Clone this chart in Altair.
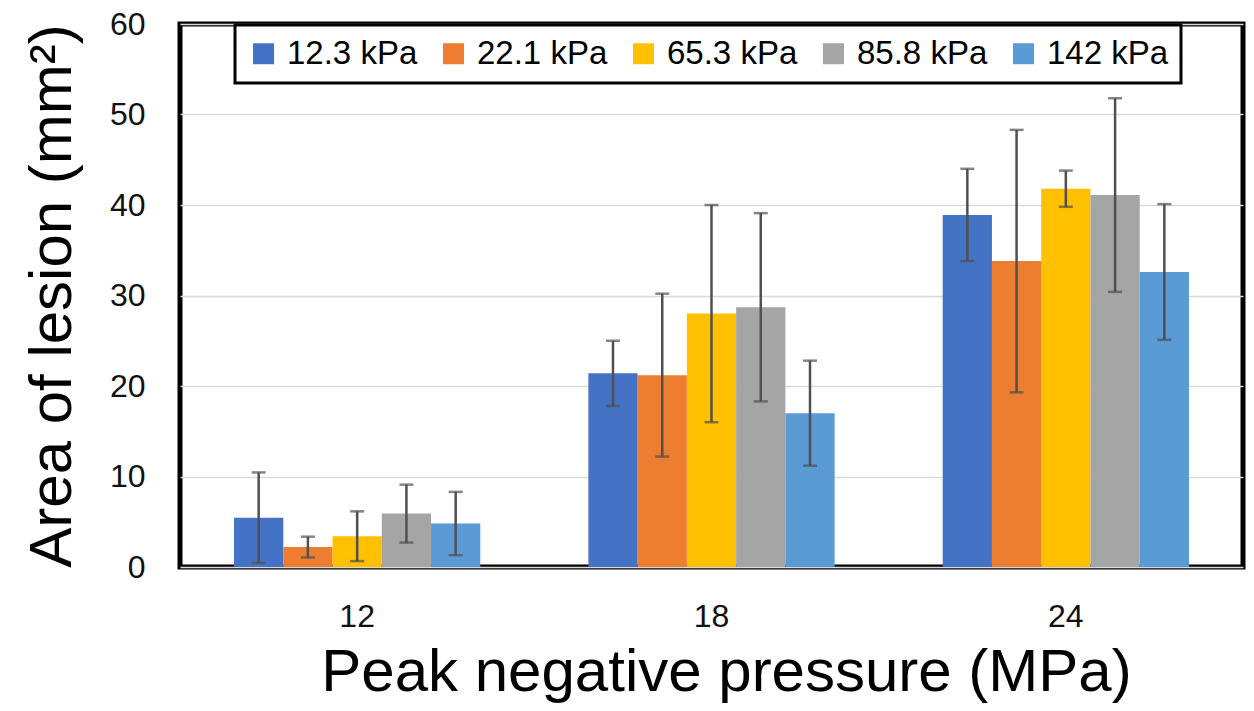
import altair as alt
import pandas as pd

# ---- data ----
pressures = ["12", "18", "24"]
series = ["12.3 kPa", "22.1 kPa", "65.3 kPa", "85.8 kPa", "142 kPa"]
colors = ["#4472C4", "#ED7D31", "#FFC000", "#A5A5A5", "#5B9BD5"]

mean_123 = [5.45, 21.4, 38.9]
mean_221 = [2.2, 21.2, 33.8]
mean_653 = [3.4, 28.0, 41.8]
mean_858 = [5.9, 28.7, 41.1]
mean_142 = [4.8, 17.0, 32.6]

sd_123 = [5.0, 3.6, 5.1]
sd_221 = [1.15, 9.0, 14.5]
sd_653 = [2.75, 12.0, 2.0]
sd_858 = [3.2, 10.4, 10.7]
sd_142 = [3.5, 5.8, 7.5]

y_ticks = [0, 10, 20, 30, 40, 50, 60]

means = [mean_123, mean_221, mean_653, mean_858, mean_142]
sds = [sd_123, sd_221, sd_653, sd_858, sd_142]

rows = []
for s, m_list, sd_list in zip(series, means, sds):
    for p, m, sd in zip(pressures, m_list, sd_list):
        rows.append({"pressure": p, "series": s, "mean": m,
                     "low": m - sd, "high": m + sd})
df = pd.DataFrame(rows)

FONT = "Liberation Sans, Arial, sans-serif"

x_enc = alt.X("pressure:N", sort=pressures,
              scale=alt.Scale(paddingInner=0.305, paddingOuter=0.1525),
              axis=alt.Axis(title="Peak negative pressure (MPa)", labelAngle=0,
                            labelFontSize=32, labelColor="#111111",
                            labelPadding=34, tickSize=0, domain=False,
                            titleFontSize=60, titleFontWeight="normal",
                            titleColor="#000000", titlePadding=11,
                            titleX=546))
xo_enc = alt.XOffset("series:N", sort=series, scale=alt.Scale(paddingInner=0))

base = alt.Chart(df).encode(x=x_enc, xOffset=xo_enc)

bars = base.mark_bar().encode(
    y=alt.Y("mean:Q",
            scale=alt.Scale(domain=[0, 60], nice=False),
            axis=alt.Axis(values=y_ticks, title="Area of lesion (mm²)",
                          labelFontSize=32, labelColor="#111111",
                          labelPadding=35, tickSize=0, domain=False,
                          grid=True, gridColor="#D9D9D9", gridWidth=1.5,
                          titleFontSize=60, titleFontWeight="normal",
                          titleColor="#000000", titlePadding=26)),
    color=alt.Color("series:N", sort=series,
                    scale=alt.Scale(domain=series, range=colors),
                    legend=alt.Legend(title=None, orient="none",
                                      direction="horizontal",
                                      legendX=55, legendY=1,
                                      symbolType="square", symbolSize=441,
                                      symbolStrokeWidth=0,
                                      labelFontSize=33, labelColor="#000000",
                                      labelOffset=7, columnPadding=19,
                                      padding=12, strokeColor="#000000",
                                      fillColor="#FFFFFF")),
)

rules = base.mark_rule(color="#505050", strokeWidth=2.5).encode(
    y="low:Q", y2="high:Q")
caps_hi = base.mark_tick(color="#505050", thickness=2.5, size=14).encode(y="high:Q")
caps_lo = base.mark_tick(color="#505050", thickness=2.5, size=14).encode(y="low:Q")

chart = alt.layer(bars, rules, caps_hi, caps_lo).properties(
    width=1063, height=543,
    autosize=alt.AutoSizeParams(type="none"),
    padding={"left": 180, "top": 24, "right": 11, "bottom": 144},
    background="#FFFFFF",
).configure(font=FONT).configure_view(
    stroke="#000000", strokeWidth=5
).configure_legend(strokeWidth=3)

chart.save("out.html", embed_options={"renderer": "svg", "actions": False})
